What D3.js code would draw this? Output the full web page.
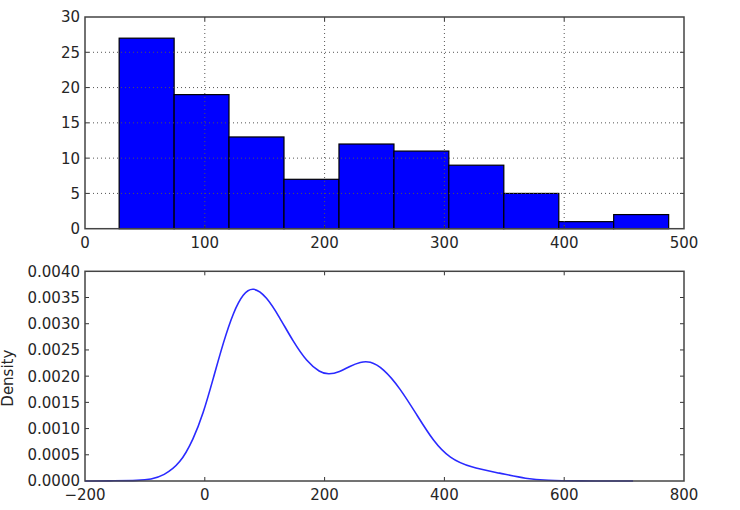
<!DOCTYPE html>
<html>
<head>
<meta charset="utf-8">
<script src="https://cdn.jsdelivr.net/npm/d3@7"></script>
<style>
  html, body { margin: 0; padding: 0; background: #fff; }
  svg text { font-family: "DejaVu Sans", sans-serif; fill: #262626; }
</style>
</head>
<body>
<svg id="chart" width="740" height="510"></svg>
<script>
// ---- Data ----
const binEdges = [28.5, 74.4, 120.2, 166.1, 212.0, 257.9, 303.7, 349.6, 395.5, 441.3, 487.2];
const binCounts = [27, 19, 13, 7, 12, 11, 9, 5, 1, 2];
const histXTicks = [0, 100, 200, 300, 400, 500];
const histYTicks = [0, 5, 10, 15, 20, 25, 30];

const densityX = [-200, -150, -110, -90, -69, -41, -19, -3, 14, 31, 48, 64, 81, 103, 125, 148, 170, 192, 207, 225, 242, 260, 275, 298, 326, 354, 382, 409, 443, 493, 537, 571, 620, 715];
const densityY = [0, 0.000003, 0.00001, 0.00003, 0.0001, 0.00033, 0.0008, 0.00127, 0.00195, 0.00265, 0.00323, 0.00358, 0.00371, 0.00352, 0.00312, 0.00265, 0.00228, 0.00207, 0.00203, 0.00208, 0.00219, 0.00227, 0.00229, 0.00215, 0.00177, 0.00126, 0.00075, 0.00043, 0.00026, 0.00015, 0.00004, 0.00001, 0, 0];
const densXTicks = [-200, 0, 200, 400, 600, 800];
const densYTicks = [0, 0.0005, 0.001, 0.0015, 0.002, 0.0025, 0.003, 0.0035, 0.004];
const densYLabel = "Density";

// ---- Layout ----
const svg = d3.select("#chart");
const L = 85, R = 684;
const top1 = 17, bot1 = 228.7;
const top2 = 271.3, bot2 = 481;
const tickLen = 4;
const fontSize = 15;

function frame(g, x, y, xTicks, yTicks, yFmt, top, bot, grid) {
  const tg = g.append("g").attr("stroke", "#333").attr("stroke-width", 1);
  xTicks.forEach(t => {
    const px = x(t);
    if (px > L + 0.5 && px < R - 0.5) {
      tg.append("line").attr("x1", px).attr("x2", px).attr("y1", bot).attr("y2", bot - tickLen);
      tg.append("line").attr("x1", px).attr("x2", px).attr("y1", top).attr("y2", top + tickLen);
    }
  });
  yTicks.forEach(t => {
    const py = y(t);
    if (py > top + 0.5 && py < bot - 0.5) {
      tg.append("line").attr("x1", L).attr("x2", L + tickLen).attr("y1", py).attr("y2", py);
      tg.append("line").attr("x1", R).attr("x2", R - tickLen).attr("y1", py).attr("y2", py);
    }
  });
  if (grid) {
    const gg = g.append("g").attr("stroke", "#555").attr("stroke-width", 1).attr("stroke-dasharray", "1,3");
    xTicks.forEach(t => {
      const px = x(t);
      if (px > L + 0.5 && px < R - 0.5)
        gg.append("line").attr("x1", px).attr("x2", px).attr("y1", top).attr("y2", bot);
    });
    yTicks.forEach(t => {
      const py = y(t);
      if (py > top + 0.5 && py < bot - 0.5)
        gg.append("line").attr("x1", L).attr("x2", R).attr("y1", py).attr("y2", py);
    });
  }
  g.append("rect").attr("x", L).attr("y", top).attr("width", R - L).attr("height", bot - top)
    .attr("fill", "none").attr("stroke", "#444").attr("stroke-width", 1.5);
  g.append("g").selectAll("text").data(xTicks).join("text")
    .attr("x", d => x(d)).attr("y", bot + 19)
    .attr("text-anchor", "middle").attr("font-size", fontSize)
    .text(d => d < 0 ? "\u2212" + Math.abs(d) : String(d));
  g.append("g").selectAll("text").data(yTicks).join("text")
    .attr("x", L - 5).attr("y", d => y(d)).attr("dy", "0.36em")
    .attr("text-anchor", "end").attr("font-size", fontSize)
    .text(d => yFmt(d));
}

// ---- Histogram ----
const x1 = d3.scaleLinear().domain([0, 500]).range([L, R]);
const y1 = d3.scaleLinear().domain([0, 30]).range([bot1, top1]);
const g1 = svg.append("g");
g1.append("g").selectAll("rect").data(binCounts).join("rect")
  .attr("x", (d, i) => x1(binEdges[i]))
  .attr("width", (d, i) => x1(binEdges[i + 1]) - x1(binEdges[i]))
  .attr("y", d => y1(d))
  .attr("height", d => y1(0) - y1(d))
  .attr("fill", "#0000ff").attr("stroke", "#000").attr("stroke-width", 1.2);
frame(g1, x1, y1, histXTicks, histYTicks, d => String(d), top1, bot1, true);

// ---- Density ----
const x2 = d3.scaleLinear().domain([-200, 800]).range([L, R]);
const y2 = d3.scaleLinear().domain([0, 0.004]).range([bot2, top2]);
const g2 = svg.append("g");
const pts = densityX.map((v, i) => [v, densityY[i]]);
g2.append("path").datum(pts)
  .attr("d", d3.line().x(d => x2(d[0])).y(d => y2(d[1])).curve(d3.curveBasis))
  .attr("fill", "none").attr("stroke", "#2a2aff").attr("stroke-width", 1.6);
frame(g2, x2, y2, densXTicks, densYTicks, d3.format(".4f"), top2, bot2, false);
g2.append("text")
  .attr("transform", `translate(${13},${(top2 + bot2) / 2 + 2}) rotate(-90)`)
  .attr("text-anchor", "middle").attr("font-size", fontSize)
  .text(densYLabel);
</script>
</body>
</html>
